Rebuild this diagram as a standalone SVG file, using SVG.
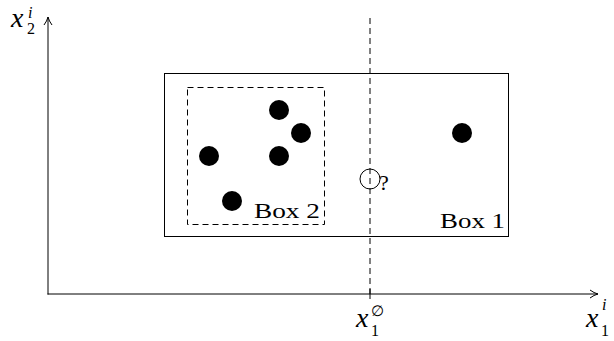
<svg xmlns="http://www.w3.org/2000/svg" width="614" height="341" viewBox="0 0 614 341">
<style>
.ln{stroke:#000;stroke-width:1;fill:none}
.ds{stroke:#000;stroke-width:1;fill:none;stroke-dasharray:6,4}
.dot{fill:#000}
.t{font-family:"Liberation Serif","DejaVu Serif",serif;fill:#000}
.m{font-family:"Liberation Serif","DejaVu Serif",serif;font-style:italic;fill:#000}
</style>
<defs>
<marker id="ar" viewBox="0 0 10 10" refX="9" refY="5" markerWidth="10" markerHeight="10" markerUnits="userSpaceOnUse" orient="auto">
<path d="M1,1 Q5,4 9,5 Q5,6 1,9" fill="none" stroke="#000" stroke-width="1"/>
</marker>
</defs>
<g id="connectors">
<line class="ln" x1="48" y1="294.5" x2="48" y2="17" marker-end="url(#ar)"/>
<line class="ln" x1="47.5" y1="294" x2="598" y2="294" marker-end="url(#ar)"/>
<line class="ds" x1="370" y1="18" x2="370" y2="294"/>
<line class="ln" x1="370" y1="289" x2="370" y2="299"/>
</g>
<g id="box1"><rect class="ln" x="164.5" y="73.5" width="344" height="163"/><text class="t" x="440" y="228" font-size="22" textLength="65" lengthAdjust="spacingAndGlyphs">Box 1</text></g>
<g id="box2"><rect class="ds" x="187.5" y="87.5" width="137" height="137"/><text class="t" x="254" y="218" font-size="22" textLength="66" lengthAdjust="spacingAndGlyphs">Box 2</text></g>
<g id="dots">
<circle class="dot" cx="279" cy="110" r="10"/>
<circle class="dot" cx="301" cy="133" r="10"/>
<circle class="dot" cx="209" cy="156" r="10"/>
<circle class="dot" cx="279" cy="156" r="10"/>
<circle class="dot" cx="232" cy="201" r="10"/>
<circle class="dot" cx="462" cy="133" r="10"/>
</g>
<g id="query"><circle cx="370" cy="179" r="10" fill="none" stroke="#000" stroke-width="1"/><text class="t" x="379" y="190" font-size="22">?</text></g>
<g id="label-x2"><text class="m" x="11" y="27" font-size="28">x</text><text class="t" x="27" y="34" font-size="16">2</text><text class="m" x="28" y="18" font-size="16">i</text></g>
<g id="label-x1empty"><text class="m" x="356" y="327" font-size="28">x</text><text class="t" x="371" y="336" font-size="16">1</text><text class="t" x="371" y="316" font-size="15">∅</text></g>
<g id="label-x1"><text class="m" x="586" y="327" font-size="28">x</text><text class="t" x="601" y="336" font-size="16">1</text><text class="m" x="602" y="310" font-size="16">i</text></g>
</svg>
